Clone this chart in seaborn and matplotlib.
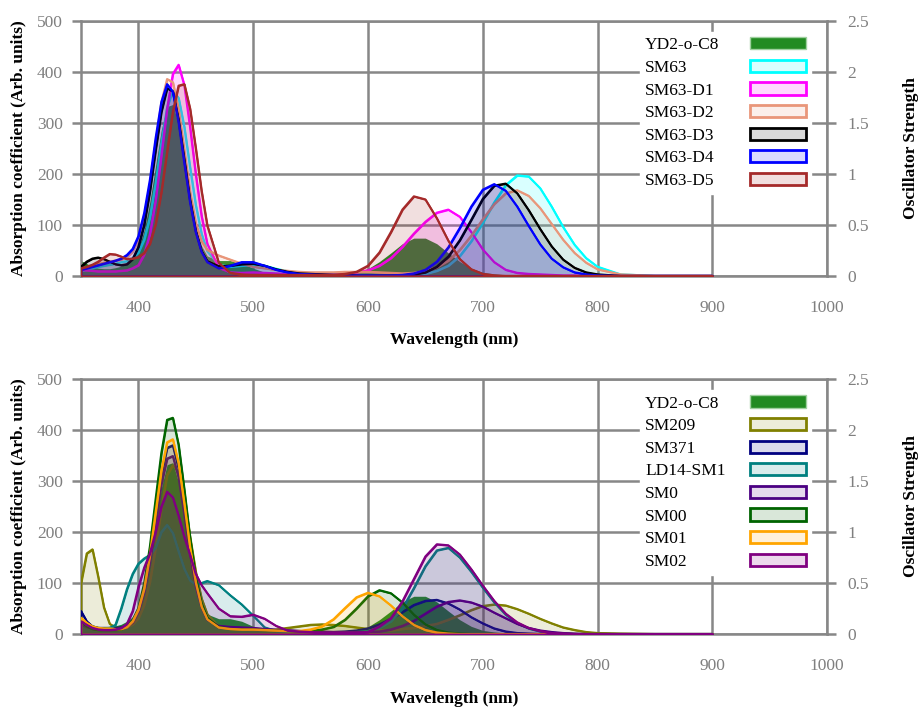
import matplotlib
matplotlib.use("Agg")
import matplotlib.pyplot as plt
from matplotlib.colors import to_rgba
from matplotlib.patches import Patch
import seaborn as sns

sns.set_theme(style="white")
plt.rcParams["font.family"] = ["Liberation Serif", "DejaVu Serif"]

# --- data (wavelength grid in nm) ---
wl = [350, 355, 360, 365, 370, 375, 380, 385, 390, 395, 400, 405, 410, 415, 420,
      425, 430, 435, 440, 445, 450, 455, 460,
      470, 480, 490, 500, 510, 520, 530, 540, 550, 560, 570, 580, 590, 600, 610,
      620, 630, 640, 650, 660, 670, 680, 690, 700, 710, 720, 730, 740, 750, 760,
      770, 780, 790, 800,
      820, 850, 900]

yd2 = [30, 24, 18, 15, 14, 14, 16, 19, 25, 34, 53, 89, 145, 215, 286, 332, 336, 297, 229, 156, 96, 59, 39,
       30, 30, 25, 15, 7, 5, 4, 3, 3, 3, 4, 5, 8, 14, 28, 45, 63, 74, 74, 63, 45, 28, 15, 7, 4, 2, 1, 0.5, 0, 0, 0, 0, 0, 0,
       0, 0, 0]

# top panel
sm63 = [10, 12, 15, 18, 20, 22, 24, 27, 29, 35, 46, 71, 115, 182, 261, 330, 364, 349, 292, 213, 139, 83, 48,
        22, 18, 20, 22, 20, 14, 9, 6, 5, 4, 3, 3, 2, 2, 2, 2, 2, 2, 4, 10, 20, 39, 68, 104, 144, 178, 197, 195, 172, 136, 96, 61, 35, 18,
        3, 0, 0]
sm63_d1 = [12, 11, 10, 9, 9, 9, 9, 10, 11, 15, 21, 42, 82, 148, 236, 328, 396, 414, 374, 292, 199, 118, 63,
           16, 7, 6, 7, 6, 5, 4, 4, 4, 4, 4, 5, 7, 11, 20, 35, 57, 83, 106, 124, 130, 116, 86, 52, 27, 12, 6, 4, 3, 2, 1, 1, 0, 0,
           0, 0, 0]
sm63_d2 = [15, 17, 20, 23, 26, 28, 30, 32, 37, 47, 71, 113, 177, 262, 340, 386, 380, 326, 245, 164, 103, 68, 51,
           40, 32, 24, 18, 15, 12, 10, 8, 7, 7, 7, 8, 8, 8, 7, 6, 5, 6, 10, 17, 30, 51, 79, 111, 141, 162, 168, 157, 133, 102, 71, 45, 26, 13,
           3, 0, 0]
sm63_d3 = [18, 28, 34, 36, 33, 28, 23, 21, 23, 33, 57, 100, 166, 247, 322, 368, 362, 306, 228, 149, 88, 49, 29,
           19, 20, 23, 24, 20, 13, 8, 5, 4, 3, 2, 2, 1, 1, 1, 1, 1, 3, 7, 18, 38, 70, 110, 151, 177, 181, 162, 129, 92, 58, 32, 16, 7, 3,
           0, 0, 0]
sm63_d4 = [12, 15, 18, 21, 24, 27, 30, 34, 41, 53, 78, 123, 188, 270, 341, 376, 361, 301, 221, 144, 85, 47, 27,
           15, 20, 27, 27, 20, 12, 7, 4, 3, 2, 2, 1, 1, 1, 1, 1, 2, 5, 12, 28, 56, 94, 136, 169, 180, 167, 136, 98, 62, 34, 17, 7, 3, 1,
           0, 0, 0]
sm63_d5 = [15, 18, 22, 28, 36, 43, 42, 38, 33, 34, 37, 45, 63, 101, 164, 244, 322, 373, 376, 328, 250, 167, 99,
           26, 6, 3, 2, 2, 2, 2, 2, 2, 2, 2, 4, 8, 20, 46, 86, 130, 156, 150, 113, 69, 33, 13, 4, 1, 0, 0, 0, 0, 0, 0, 0, 0, 0,
           0, 0, 0]

# bottom panel
sm209 = [100, 158, 166, 112, 52, 20, 13, 12, 13, 19, 31, 57, 102, 169, 245, 312, 331, 317, 264, 191, 122, 70, 39,
         15, 10, 9, 8, 8, 9, 12, 15, 18, 19, 18, 16, 13, 10, 8, 7, 10, 12, 16, 20, 28, 37, 47, 55, 58, 56, 49, 40, 30, 21, 13, 8, 4, 2,
         1, 0, 0]
sm371 = [45, 25, 15, 12, 12, 12, 12, 13, 17, 27, 49, 89, 152, 233, 312, 365, 370, 325, 249, 167, 100, 56, 31,
         14, 11, 10, 10, 9, 8, 7, 6, 5, 4, 4, 5, 7, 11, 19, 30, 43, 57, 65, 67, 60, 48, 33, 21, 11, 5, 2, 1, 0, 0, 0, 0, 0, 0,
         0, 0, 0]
ld14_sm1 = [20, 16, 13, 11, 11, 12, 18, 50, 88, 118, 138, 148, 155, 170, 200, 214, 198, 162, 128, 105, 97, 100, 104,
            96, 76, 58, 36, 13, 6, 5, 4, 4, 3, 3, 3, 4, 6, 12, 25, 50, 90, 133, 164, 169, 150, 122, 91, 62, 38, 21, 11, 5, 2, 1, 0, 0, 0,
            0, 0, 0]
sm0 = [20, 14, 10, 9, 9, 9, 9, 10, 15, 23, 44, 82, 141, 218, 294, 344, 349, 307, 234, 157, 93, 52, 28,
       16, 14, 13, 12, 10, 8, 7, 6, 5, 5, 4, 4, 4, 4, 5, 9, 16, 26, 40, 54, 63, 66, 62, 54, 42, 31, 20, 12, 7, 4, 2, 1, 0, 0,
       0, 0, 0]
sm00 = [25, 15, 10, 8, 8, 8, 8, 9, 15, 27, 51, 99, 171, 264, 355, 420, 424, 371, 283, 188, 111, 60, 32,
        14, 10, 9, 9, 8, 7, 6, 5, 6, 9, 14, 28, 50, 74, 86, 80, 62, 38, 19, 8, 3, 1, 0, 0, 0, 0, 0, 0, 0, 0, 0, 0, 0, 0,
        0, 0, 0]
sm01 = [32, 22, 15, 12, 11, 11, 10, 10, 14, 25, 48, 89, 155, 239, 321, 376, 382, 335, 256, 170, 101, 54, 29,
        13, 10, 9, 9, 8, 7, 6, 6, 9, 15, 29, 51, 72, 81, 74, 56, 35, 18, 8, 3, 1, 0, 0, 0, 0, 0, 0, 0, 0, 0, 0, 0, 0, 0,
        0, 0, 0]
sm02 = [25, 18, 12, 9, 8, 8, 9, 12, 20, 45, 92, 130, 158, 200, 250, 279, 268, 232, 190, 155, 118, 96, 80,
        50, 35, 34, 38, 30, 16, 7, 5, 4, 3, 3, 3, 3, 4, 15, 31, 64, 108, 152, 176, 174, 156, 127, 95, 65, 40, 23, 12, 6, 2, 1, 0, 0, 0,
        0, 0, 0]

top_names = ["SM63", "SM63-D1", "SM63-D2", "SM63-D3", "SM63-D4", "SM63-D5"]
top_colors = ["cyan", "magenta", "darksalmon", "black", "blue", "brown"]
top_data = [sm63, sm63_d1, sm63_d2, sm63_d3, sm63_d4, sm63_d5]

bot_names = ["SM209", "SM371", "LD14-SM1", "SM0", "SM00", "SM01", "SM02"]
bot_colors = ["olive", "navy", "teal", "indigo", "darkgreen", "orange", "purple"]
bot_data = [sm209, sm371, ld14_sm1, sm0, sm00, sm01, sm02]

grid_c = "#878787"
tick_c = "#7f7f7f"

fig = plt.figure(figsize=(9.2, 7.11), dpi=100)
ax_top = fig.add_axes([0.088, 0.612, 0.811, 0.3586])
ax_bot = fig.add_axes([0.088, 0.1083, 0.811, 0.3586])


def panel(ax, names, colors, data):
    ax.fill_between(wl, yd2, color="forestgreen", lw=0, zorder=2)
    for name, c, y in zip(names, colors, data):
        ax.fill_between(wl, y, facecolor=to_rgba(c, 0.15), edgecolor=c, lw=1.3, zorder=3)
        sns.lineplot(x=wl, y=y, color=c, lw=1.5, ax=ax, zorder=3)

    ax.set_xlim(350, 1000)
    ax.set_ylim(0, 500)
    ax.set_xticks(range(400, 1001, 100))
    ax.set_yticks(range(0, 501, 100))
    ax.grid(True, color=grid_c, lw=1.8)
    for s in ax.spines.values():
        s.set_color(grid_c)
        s.set_linewidth(1.8)
    ax.tick_params(direction="out", length=6.5, width=1.8, color=grid_c,
                   labelcolor=tick_c, labelsize=12.5)
    ax.tick_params(axis="x", pad=11)
    ax.tick_params(axis="y", pad=6.5, left=True)
    ax.set_xlabel("Wavelength (nm)", fontsize=12.5, fontweight="bold", color="black")
    ax.set_ylabel("Absorption coefficient (Arb. units)", fontsize=12.5,
                  fontweight="bold", color="black")
    ax.xaxis.set_label_coords(0.5, -0.222)
    ax.yaxis.set_label_coords(-0.072, 0.5)

    ax2 = ax.twinx()
    ax2.set_ylim(0, 2.5)
    ax2.set_yticks([0, 0.5, 1, 1.5, 2, 2.5])
    ax2.set_yticklabels(["0", "0.5", "1", "1.5", "2", "2.5"])
    ax2.grid(False)
    for s in ax2.spines.values():
        s.set_visible(False)
    ax2.tick_params(axis="y", direction="out", length=6.5, width=1.8, color=grid_c,
                    labelcolor=tick_c, labelsize=12.5, pad=8, right=True)
    ax2.set_ylabel("Oscillator Strength", fontsize=12.5, fontweight="bold", color="black")
    ax2.yaxis.set_label_coords(1.102, 0.5)

    handles = [Patch(facecolor="forestgreen", edgecolor="#9fd09f", lw=1, label="YD2-o-C8")]
    for name, c in zip(names, colors):
        handles.append(Patch(facecolor=to_rgba(c, 0.15), edgecolor=c, lw=2, label=name))
    leg = ax.legend(handles=handles, loc="upper right", bbox_to_anchor=(0.99, 0.99),
                    markerfirst=False, frameon=True, framealpha=1, edgecolor="white",
                    fancybox=False, fontsize=12.5, handlelength=3.2, handleheight=0.7,
                    handletextpad=1.6, labelspacing=0.37, borderpad=0.3)
    leg.set_zorder(5)
    for t in leg.get_texts():
        t.set_color("black")
    return leg


legs = [panel(ax_top, top_names, top_colors, top_data),
        panel(ax_bot, bot_names, bot_colors, bot_data)]

# left-align the legend labels: text starts at a fixed distance before the swatch
fig.canvas.draw()
rend = fig.canvas.get_renderer()
span = 105 * 72 / fig.dpi
for leg in legs:
    texts = leg.get_texts()
    widths = [t.get_window_extent(rend).width * 72 / fig.dpi for t in texts]
    rows = leg._legend_handle_box.get_children()[0].get_children()
    for row, w in zip(rows, widths):
        row.sep = span - w

fig.savefig("out.png", dpi=100)
